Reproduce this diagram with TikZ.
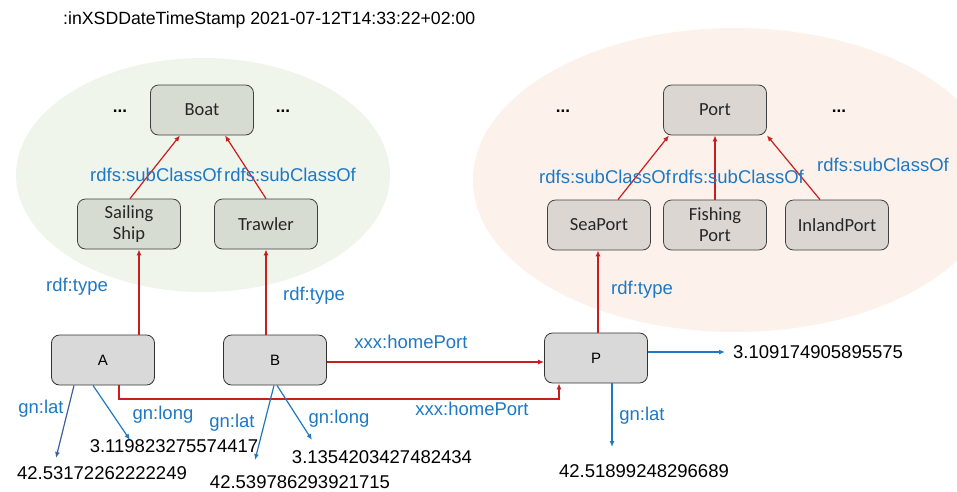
\documentclass[tikz,border=0pt]{standalone}
\usepackage{fontspec}
\setmainfont{Liberation Sans}
\newfontfamily\calfont{Carlito}
\usetikzlibrary{arrows.meta}
\definecolor{redline}{RGB}{200,30,30}
\definecolor{bluelbl}{RGB}{30,120,195}
\definecolor{darkblue}{RGB}{60,95,160}
\definecolor{greenbg}{RGB}{240,245,236}
\definecolor{orangebg}{RGB}{252,242,235}
\definecolor{boxgreen}{RGB}{214,220,210}
\definecolor{boxorange}{RGB}{220,214,210}
\definecolor{boxgray}{RGB}{217,217,217}
\tikzset{
  classbox/.style={draw=black!75, line width=0.8pt, rounded corners=8pt, minimum width=103pt, minimum height=50pt, align=center, font=\calfont\fontsize{18.5}{21}\selectfont, text=black!85},
  instbox/.style={draw=black!80, fill=boxgray, line width=0.8pt, rounded corners=8pt, minimum width=103pt, minimum height=50pt, font=\fontsize{15}{17}\selectfont},
  lbl/.style={text=bluelbl, font=\fontsize{18.5}{20}\selectfont, inner sep=0pt},
  val/.style={text=black, font=\fontsize{18.5}{20}\selectfont, inner sep=0pt},
  dots/.style={font=\bfseries\fontsize{17}{20}\selectfont, inner sep=0pt},
  redarr/.style={draw=redline, line width=1.2pt, -{Latex[length=6pt,width=5pt]}},
  bluearr/.style={draw=bluelbl, line width=1.2pt, -{Latex[length=6pt,width=5pt]}},
}
\begin{document}
\begin{tikzpicture}[x=1pt,y=-1pt]
\useasboundingbox (0,0) rectangle (957,491);
% background ellipses
\begin{scope}
\clip (0,0) rectangle (957,491);
\fill[greenbg] (203,175) ellipse (187 and 117);
\fill[orangebg] (735,180) ellipse (262 and 152);
\end{scope}
% title
\node[val, font=\fontsize{17.7}{20}\selectfont, anchor=west] (title) at (63,20) {:inXSDDateTimeStamp 2021-07-12T14:33:22+02:00};
% class boxes
\node[classbox, fill=boxgreen] (boat) at (202,110) {Boat};
\node[classbox, fill=boxgreen] (sail) at (129,224) {Sailing\\Ship};
\node[classbox, fill=boxgreen] (trawl) at (266,224) {Trawler};
\node[dots] (d1) at (120,111) {...};
\node[dots] (d2) at (283,111) {...};
\node[classbox, fill=boxorange] (port) at (715,110) {Port};
\node[classbox, fill=boxorange] (sea) at (599,225) {SeaPort};
\node[classbox, fill=boxorange] (fish) at (715,225) {Fishing\\Port};
\node[classbox, fill=boxorange] (inland) at (837,225) {InlandPort};
\node[dots] (d3) at (563,111) {...};
\node[dots] (d4) at (839,111) {...};
% instances
\node[instbox] (A) at (103,360) {A};
\node[instbox] (B) at (275,360) {B};
\node[instbox] (P) at (596,358) {P};
% subclass arrows
\draw[redarr] (sail.north -| 130,0) -- (boat.south -| 180,0);
\draw[redarr] (trawl.north -| 266,0) -- (boat.south -| 225,0);
\draw[redarr] (sea.north -| 618,0) -- (port.south -| 669,0);
\draw[redarr] (fish.north) -- (port.south);
\draw[redarr] (inland.north -| 820,0) -- (port.south east);
\node[lbl] (l1) at (156,175) {rdfs:subClassOf};
\node[lbl] (l2) at (290,175) {rdfs:subClassOf};
\node[lbl] (l3) at (605,177) {rdfs:subClassOf};
\node[lbl] (l4) at (738,177) {rdfs:subClassOf};
\node[lbl] (l5) at (883,165) {rdfs:subClassOf};
% rdf:type
\draw[redarr] (A.north -| 139,0) -- (sail.south -| 139,0);
\draw[redarr] (B.north -| 266,0) -- (trawl.south -| 266,0);
\draw[redarr] (P.north -| 598,0) -- (sea.south -| 598,0);
\node[lbl] (t1) at (77,287) {rdf:type};
\node[lbl] (t2) at (314,296) {rdf:type};
\node[lbl] (t3) at (642,290) {rdf:type};
% homePort
\draw[redarr] (B.east |- 0,362) -- (P.west |- 0,362);
\draw[redarr] (A.south -| 119,0) -- (119,399) -- (559,399) -- (P.south -| 559,0);
\node[lbl] (h1) at (411,342) {xxx:homePort};
\node[lbl] (h2) at (472,409) {xxx:homePort};
% values
\node[val] (va1) at (102,473) {42.53172262222249};
\node[val] (va2) at (174,446) {3.119823275574417};
\node[val] (vb1) at (300,482) {42.539786293921715};
\node[val] (vb2) at (382,457) {3.1354203427482434};
\node[val] (vp1) at (644,471) {42.51899248296689};
\node[val, anchor=west] (vp2) at (733,352) {3.109174905895575};
\coordinate (ea1) at (56,458);
\coordinate (ea2) at (130,440);
\coordinate (eb1) at (255,460);
\coordinate (eb2) at (312,440);
\coordinate (ep1) at (612,447);
\draw[bluearr, draw=darkblue] (A.south -| 74,0) -- (ea1);
\draw[bluearr] (A.south -| 93,0) -- (ea2);
\draw[bluearr] (B.south -| 274,0) -- (eb1);
\draw[bluearr] (B.south -| 277,0) -- (eb2);
\draw[bluearr] (P.south -| 612,0) -- (ep1);
\draw[bluearr, shorten >=8pt] (P.east |- 0,352) -- (vp2.west);
\node[lbl] (g1) at (41,409) {gn:lat};
\node[lbl] (g2) at (163,415) {gn:long};
\node[lbl] (g3) at (232,423) {gn:lat};
\node[lbl] (g4) at (339,419) {gn:long};
\node[lbl] (g5) at (642,416) {gn:lat};
\end{tikzpicture}
\end{document}
